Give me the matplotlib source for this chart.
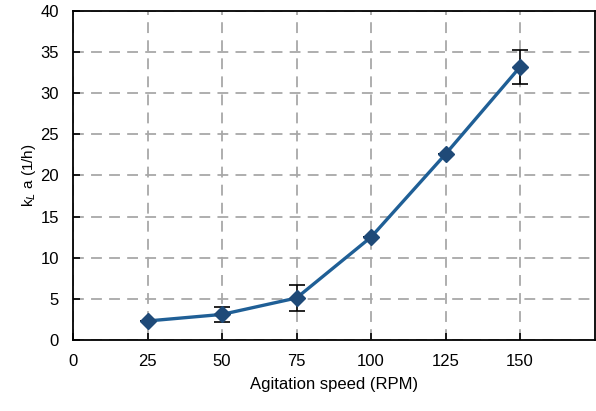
import matplotlib
matplotlib.use("Agg")
import matplotlib.pyplot as plt

# agitation speed vs kLa
speed = [25, 50, 75, 100, 125, 150]
kla = [2.3, 3.1, 5.1, 12.5, 22.6, 33.2]
kla_err = [0.0, 0.9, 1.6, 0.0, 0.0, 2.1]
xticks = [0, 25, 50, 75, 100, 125, 150]
yticks = [0, 5, 10, 15, 20, 25, 30, 35, 40]

plt.rcParams['font.family'] = ['Liberation Sans', 'DejaVu Sans']

fig = plt.figure(figsize=(5.96, 4.11), dpi=100)
ax = fig.add_axes([0.1225, 0.173, 0.875, 0.8])

ax.errorbar(speed, kla, yerr=kla_err, color='#1f5f96', lw=2.4,
            marker='D', ms=8.5, mfc='#1f4a78', mec='#1f4a78',
            ecolor='black', elinewidth=1.2, capsize=6, capthick=1.2, zorder=3)

ax.set_xlim(0, 175)
ax.set_ylim(0, 40)
ax.set_xticks(xticks)
ax.set_yticks(yticks)
ax.grid(True, color='#a8a8a8', ls=(0, (6, 4)), lw=1.3)
ax.tick_params(labelsize=12, length=5, width=1.2, direction='in', pad=10)
for s in ax.spines.values():
    s.set_linewidth(1.3)

ax.set_xlabel('Agitation speed (RPM)', fontsize=12, labelpad=6)
ax.set_ylabel('k$_L$ a (1/h)', fontsize=11, labelpad=2)

fig.savefig('out.png', dpi=100)
